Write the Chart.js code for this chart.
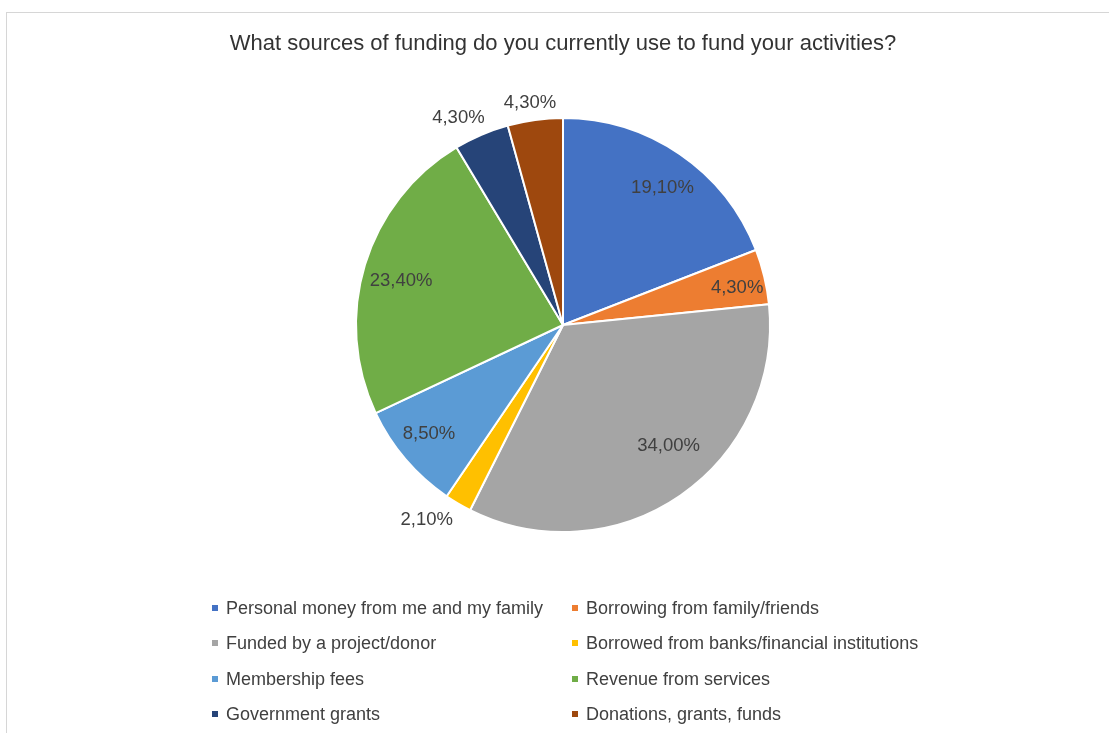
<!DOCTYPE html>
<html>
<head>
<meta charset="utf-8">
<script src="https://cdn.jsdelivr.net/npm/chart.js@4.4.1/dist/chart.umd.min.js"></script>
<style>
  html, body { margin: 0; padding: 0; background: #fff; overflow: hidden; }
  #wrap { position: relative; width: 1109px; height: 733px; overflow: hidden; }
  #frame {
    position: absolute; left: 6px; top: 12px; width: 1200px; height: 800px;
    border-top: 1.5px solid #d6d6d6; border-left: 1.5px solid #d6d6d6;
  }
  #myChart { position: absolute; left: 0; top: 0; }
</style>
</head>
<body>
<div id="wrap">
  <div id="frame"></div>
  <canvas id="myChart" width="1109" height="733"></canvas>
</div>
<script>
'use strict';

const title = 'What sources of funding do you currently use to fund your activities?';

const labels = [
  'Personal money from me and my family',
  'Borrowing from family/friends',
  'Funded by a project/donor',
  'Borrowed from banks/financial institutions',
  'Membership fees',
  'Revenue from services',
  'Government grants',
  'Donations, grants, funds'
];

const shares = [19.1, 4.3, 34.0, 2.1, 8.5, 23.4, 4.3, 4.3];

const colors = ['#4472C4', '#ED7D31', '#A5A5A5', '#FFC000', '#5B9BD5', '#70AD47', '#264478', '#9E480E'];

// where each percentage label goes: fraction of the radius, and a turn (degrees) off the slice middle
const labelRadius = [0.82, 0.86, 0.775, 1.15, 0.835, 0.81, 1.12, 1.085];
const labelTurn = [1.5, 1.5, -6.6, 4.5, 1.3, -1.8, -3.6, -0.7];

const fmt = v => v.toFixed(2).replace('.', ',') + '%';

const FONT = '"Liberation Sans", Arial, Helvetica, sans-serif';
const TEXT = '#404040';

// title, percentage labels and a two-column legend drawn by hand
const decorations = {
  id: 'decorations',
  afterDatasetsDraw(chart) {
    const { ctx } = chart;
    const meta = chart.getDatasetMeta(0);
    ctx.save();

    ctx.fillStyle = '#333';
    ctx.font = '22px ' + FONT;
    ctx.textAlign = 'center';
    ctx.textBaseline = 'middle';
    ctx.fillText(title, 563, 44);

    ctx.fillStyle = TEXT;
    ctx.font = '18.5px ' + FONT;
    meta.data.forEach((arc, i) => {
      const { x, y, startAngle, endAngle, outerRadius } = arc.getProps(['x', 'y', 'startAngle', 'endAngle', 'outerRadius'], true);
      const mid = (startAngle + endAngle) / 2 + labelTurn[i] * Math.PI / 180;
      const r = outerRadius * labelRadius[i];
      ctx.fillText(fmt(shares[i]), x + Math.cos(mid) * r, y + Math.sin(mid) * r);
    });

    ctx.font = '18px ' + FONT;
    ctx.textAlign = 'left';
    const cols = [212, 572];
    const rows = [608, 643, 679, 714];
    labels.forEach((name, i) => {
      const cx = cols[i % 2];
      const cy = rows[Math.floor(i / 2)];
      ctx.fillStyle = colors[i];
      ctx.fillRect(cx, cy - 3, 6, 6);
      ctx.fillStyle = TEXT;
      ctx.fillText(name, cx + 14, cy + 1);
    });
    ctx.restore();
  }
};

const config = {
  type: 'pie',
  data: {
    labels,
    datasets: [{
      data: shares,
      backgroundColor: colors,
      borderColor: '#fff',
      borderWidth: 2
    }]
  },
  options: {
    responsive: false,
    animation: false,
    layout: {
      padding: { top: 117, bottom: 200, left: 355, right: 338 }
    },
    plugins: {
      legend: { display: false },
      title: { display: false },
      tooltip: { enabled: false }
    }
  },
  plugins: [decorations]
};

const myChart = new Chart(document.getElementById('myChart'), config);
</script>
</body>
</html>
